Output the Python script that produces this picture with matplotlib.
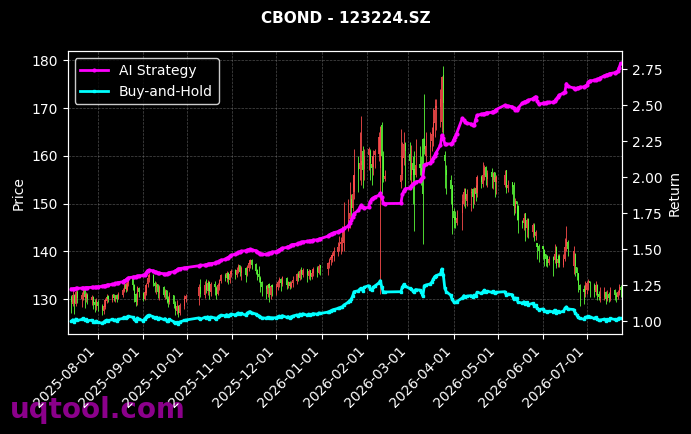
import numpy as np
import pandas as pd
import matplotlib
matplotlib.use("Agg")
import matplotlib.pyplot as plt
import matplotlib.dates as mdates

# trading days: weekdays minus exchange holidays
holidays = pd.to_datetime([
    "2025-10-01", "2025-10-02", "2025-10-03", "2025-10-06", "2025-10-07", "2025-10-08",
    "2026-01-01", "2026-01-02",
    "2026-02-16", "2026-02-17", "2026-02-18", "2026-02-19", "2026-02-20", "2026-02-23",
    "2026-04-06", "2026-05-01", "2026-05-04", "2026-05-05", "2026-06-19",
])
dates = pd.bdate_range("2025-07-14", "2026-07-24")
dates = dates[~dates.isin(holidays)]

# price candles, one row per month
open_ = [
    130.5, 129.0, 130.9, 129.0, 131.6, 130.0, 131.2, 132.0, 130.3, 131.0, 129.8, 130.5, 129.4, 128.6,  # jul
    129.5, 128.6, 127.6, 128.4, 129.6, 130.6, 129.8, 131.1, 130.0, 130.9, 130.1, 131.0, 131.8, 133.1, 132.0, 133.5, 134.2, 133.0, 131.2, 129.4, 132.4,  # aug
    131.4, 130.1, 131.4, 133.2, 134.6, 135.0, 133.4, 132.6, 133.1, 131.3, 132.6, 131.0, 131.9, 130.1, 129.4, 130.9, 129.0, 127.6, 128.6, 127.1, 128.6, 130.0,  # sep
    130.6, 132.6, 131.0, 133.1, 131.8, 133.6, 131.6, 133.3, 132.4, 131.1, 132.8, 133.9, 135.1, 134.4, 135.6, 134.0, 135.3,  # oct
    136.1, 135.0, 136.0, 137.1, 135.6, 136.6, 135.1, 136.6, 137.4, 138.3, 137.3, 136.1, 135.2, 134.5, 133.6, 132.7, 131.2, 133.1, 131.0, 132.9,  # nov
    132.4, 132.6, 133.5, 134.3, 133.2, 134.4, 132.8, 133.7, 132.6, 133.4, 133.8, 135.3, 134.4, 136.1, 135.0, 136.3, 134.8, 136.1, 134.6, 135.5, 136.5, 135.6, 137.1,  # dec
    136.4, 137.4, 138.3, 138.6, 139.1, 139.8, 141.2, 141.6, 142.2, 141.8, 144.6, 146.8, 151.0, 149.2, 152.5, 158.5, 157.2, 158.0, 161.0, 157.2,  # jan
    160.2, 161.0, 158.2, 157.6, 160.2, 160.5, 157.5, 166.5, 160.0, 155.2, 154.5, 156.2, 159.5, 162.6,  # feb
    160.5, 156.0, 158.6, 157.2, 156.0, 158.2, 157.4, 163.6, 163.6, 160.0, 161.8, 163.2, 164.2, 166.8, 170.0, 170.2, 167.0, 177.0, 160.1, 157.0, 155.0, 153.9,  # mar
    148.5, 147.2, 146.0, 148.0, 150.0, 153.0, 150.5, 152.2, 153.0, 151.2, 153.2, 152.2, 155.6, 154.2, 156.0, 157.6, 155.2, 156.6, 155.0, 156.6, 154.5,  # apr
    154.0, 157.0, 153.2, 154.6, 154.0, 149.0, 150.5, 149.5, 146.3, 146.0, 148.0, 145.0, 146.8, 144.0, 145.6, 143.2, 141.8, 141.2,  # may
    141.1, 140.4, 139.4, 139.0, 137.6, 138.8, 138.2, 141.0, 137.5, 139.0, 137.2, 138.5, 141.2, 142.0, 137.0, 139.5, 136.7, 135.5, 133.0, 132.2, 131.2,  # jun
    132.0, 133.6, 133.9, 133.0, 131.5, 133.0, 131.2, 130.2, 130.4, 131.6, 130.1, 131.2, 130.0, 132.0, 131.0, 130.4, 131.3, 132.6,  # jul
]
high = [
    131.0, 132.0, 131.2, 132.6, 131.9, 131.6, 132.3, 132.2, 131.5, 131.4, 130.9, 130.6, 130.0, 130.2,
    129.8, 129.0, 129.0, 130.3, 131.2, 131.0, 131.2, 131.2, 131.0, 131.1, 131.6, 132.4, 133.6, 133.3, 134.0, 134.6, 134.5, 133.2, 131.4, 132.8, 132.6,
    131.6, 132.0, 133.4, 134.9, 135.4, 135.2, 133.9, 133.6, 133.2, 132.9, 132.8, 132.2, 132.0, 130.6, 131.5, 131.0, 129.6, 129.8, 128.8, 129.2, 130.8, 131.2,
    133.2, 134.3, 133.8, 134.2, 134.0, 133.8, 133.6, 133.9, 132.8, 133.4, 134.2, 135.3, 135.6, 136.0, 135.8, 135.8, 136.4,
    136.4, 136.7, 137.3, 137.2, 136.9, 136.8, 137.2, 138.0, 138.5, 138.4, 137.6, 136.4, 137.0, 134.8, 133.8, 133.0, 133.2, 133.4, 133.0, 133.2,
    133.4, 134.0, 134.6, 134.5, 134.8, 134.6, 133.9, 133.9, 133.8, 134.8, 135.6, 136.0, 136.4, 136.7, 136.5, 136.4, 136.3, 136.2, 136.0, 136.8, 137.0, 137.3, 137.2,
    137.8, 138.6, 139.2, 139.8, 141.0, 142.0, 143.2, 143.0, 145.3, 150.4, 151.0, 154.6, 152.0, 156.0, 161.5, 160.0, 165.0, 168.4, 162.0, 161.5,
    161.8, 161.5, 160.0, 161.2, 161.5, 165.0, 166.3, 167.0, 161.0, 157.0, 165.6, 163.0, 165.0, 162.9,
    162.9, 162.2, 160.0, 161.0, 163.6, 162.0, 160.0, 163.8, 172.9, 165.0, 165.0, 166.0, 170.0, 171.9, 172.0, 174.0, 176.7, 178.8, 161.0, 158.0, 156.0, 154.0,
    149.0, 148.5, 148.6, 152.0, 153.2, 153.2, 153.0, 153.2, 153.2, 153.5, 154.0, 156.0, 156.0, 158.7, 158.0, 157.8, 157.0, 157.4, 156.7, 156.7, 156.0,
    157.0, 157.0, 155.0, 154.6, 154.6, 151.2, 150.5, 149.8, 146.5, 148.0, 148.0, 147.0, 147.0, 146.0, 146.0, 144.5, 141.8, 141.5,
    141.1, 140.6, 139.4, 139.2, 139.0, 139.0, 141.5, 141.2, 139.4, 139.4, 139.5, 142.9, 145.3, 142.5, 141.1, 139.6, 136.7, 135.6, 133.2, 133.0, 133.9,
    133.9, 134.2, 133.9, 133.4, 133.9, 133.2, 131.8, 132.5, 132.5, 131.8, 132.0, 131.5, 132.5, 132.2, 131.6, 132.0, 133.2, 133.0,
]
low = [
    127.2, 128.5, 127.0, 128.7, 129.3, 128.4, 129.8, 128.2, 129.5, 129.0, 128.8, 128.0, 127.4, 127.8,
    127.5, 126.7, 127.0, 128.0, 129.2, 129.4, 129.5, 129.6, 129.4, 129.5, 130.0, 130.5, 131.5, 131.6, 131.8, 132.8, 132.0, 129.5, 128.7, 128.9, 130.4,
    129.6, 129.9, 130.8, 132.5, 133.6, 132.8, 131.6, 131.2, 130.2, 129.8, 130.4, 130.1, 129.2, 128.4, 129.0, 128.2, 126.8, 127.0, 126.3, 126.8, 128.0, 129.4,
    128.8, 130.5, 130.2, 131.4, 130.8, 130.1, 130.6, 131.0, 130.0, 130.8, 132.0, 133.4, 133.8, 133.6, 133.2, 133.5, 134.6,
    134.2, 134.6, 135.4, 134.8, 134.0, 133.6, 134.8, 136.0, 136.6, 136.4, 135.3, 134.0, 133.6, 131.5, 130.6, 130.1, 130.4, 129.4, 130.0, 130.6,
    130.8, 132.0, 132.6, 131.8, 132.8, 132.2, 132.4, 132.2, 132.3, 132.5, 133.2, 133.8, 134.0, 134.2, 134.6, 133.6, 134.2, 134.0, 134.2, 134.8, 134.6, 135.2, 135.0,
    135.0, 136.6, 137.2, 137.8, 138.0, 139.0, 140.0, 139.4, 140.2, 140.0, 144.2, 145.0, 146.5, 148.4, 151.0, 152.5, 155.0, 154.0, 153.2, 155.0,
    157.0, 155.0, 153.9, 156.0, 157.5, 159.0, 131.1, 152.0, 154.6, 154.8, 153.2, 155.0, 158.0, 153.2,
    155.0, 153.2, 150.0, 144.3, 155.5, 156.0, 154.0, 141.5, 160.5, 158.0, 159.0, 161.0, 162.0, 164.0, 165.5, 166.0, 165.0, 163.6, 153.2, 152.0, 150.0, 143.6,
    145.0, 145.0, 145.5, 144.6, 149.5, 149.0, 149.5, 148.4, 149.0, 150.0, 150.5, 151.5, 153.2, 153.5, 155.0, 154.0, 153.5, 153.2, 153.0, 151.5, 152.0,
    153.5, 152.2, 152.5, 152.0, 147.7, 148.0, 146.5, 143.9, 145.0, 144.5, 142.2, 143.0, 142.9, 143.0, 142.2, 142.5, 138.5, 137.7,
    138.5, 137.0, 137.0, 136.7, 137.2, 134.9, 137.5, 136.5, 136.7, 136.7, 136.7, 138.0, 140.0, 139.0, 135.3, 134.9, 134.0, 131.5, 128.7, 129.1, 130.5,
    131.2, 132.0, 130.4, 130.5, 131.0, 129.8, 129.8, 129.5, 129.8, 129.1, 129.6, 129.4, 129.6, 129.8, 129.4, 130.0, 130.8, 130.4,
]
close = [
    129.5, 130.8, 129.2, 131.5, 130.2, 131.0, 132.0, 130.5, 131.2, 130.0, 130.4, 129.3, 128.8, 129.6,
    128.5, 127.8, 128.6, 129.8, 130.5, 130.0, 131.0, 130.2, 130.8, 130.0, 131.2, 132.0, 133.0, 132.2, 133.4, 134.0, 133.0, 131.0, 129.5, 132.5, 131.5,
    130.0, 131.5, 133.0, 134.5, 135.0, 133.5, 132.8, 133.0, 131.5, 132.5, 131.0, 131.8, 130.0, 129.5, 131.0, 129.0, 127.8, 128.5, 127.2, 128.8, 130.2, 130.6,
    132.5, 131.2, 133.0, 132.0, 133.5, 131.8, 133.2, 132.5, 131.0, 133.0, 134.0, 135.0, 134.5, 135.5, 134.2, 135.2, 136.0,
    135.2, 136.2, 137.0, 135.8, 136.5, 135.0, 136.8, 137.6, 138.2, 137.2, 136.0, 135.0, 134.6, 133.5, 132.6, 132.2, 133.0, 132.3, 132.8, 132.5,
    132.8, 133.6, 134.2, 133.4, 134.6, 133.0, 133.6, 132.8, 133.5, 134.0, 135.2, 134.6, 136.0, 135.2, 136.2, 135.0, 136.0, 134.8, 135.6, 136.4, 135.8, 137.0, 136.5,
    137.6, 138.2, 138.8, 139.3, 140.0, 141.0, 141.5, 142.0, 142.5, 144.0, 146.5, 148.0, 149.0, 152.0, 156.0, 157.0, 158.5, 159.0, 157.0, 160.0,
    161.5, 158.5, 157.5, 160.0, 161.0, 164.0, 166.0, 160.0, 155.5, 155.8, 156.0, 160.0, 162.5, 161.0,
    159.0, 158.5, 157.0, 156.0, 158.0, 157.5, 155.8, 152.0, 161.5, 162.0, 163.0, 164.5, 167.0, 169.5, 170.5, 172.0, 176.5, 171.0, 159.0, 156.0, 153.0, 149.0,
    147.0, 146.5, 147.0, 150.5, 152.5, 151.0, 152.0, 152.5, 151.5, 153.0, 152.0, 155.5, 154.5, 156.0, 157.5, 155.5, 156.5, 155.5, 156.5, 154.5, 155.5,
    156.0, 153.0, 154.0, 153.5, 149.5, 150.5, 150.0, 146.5, 146.0, 147.0, 145.0, 146.5, 144.5, 145.5, 143.5, 144.0, 141.0, 140.0,
    140.5, 139.0, 138.5, 137.5, 138.5, 138.0, 139.5, 137.0, 138.5, 137.5, 138.5, 141.0, 142.5, 140.5, 140.0, 137.0, 135.5, 133.0, 132.0, 131.5, 133.0,
    133.5, 133.8, 133.5, 132.0, 133.0, 131.0, 130.5, 130.5, 131.5, 130.0, 131.0, 130.2, 132.0, 131.0, 130.5, 131.5, 132.5, 132.0,
]

# return curves (right axis)
ai_strategy = [
    1.225, 1.226, 1.227, 1.228, 1.228, 1.230, 1.232, 1.231, 1.233, 1.234, 1.235, 1.236, 1.236, 1.238,
    1.240, 1.242, 1.245, 1.248, 1.250, 1.252, 1.256, 1.258, 1.262, 1.264, 1.268, 1.274, 1.282, 1.286, 1.294, 1.302, 1.306, 1.308, 1.310, 1.314, 1.316,
    1.318, 1.320, 1.336, 1.352, 1.355, 1.350, 1.345, 1.340, 1.336, 1.334, 1.330, 1.326, 1.328, 1.332, 1.338, 1.344, 1.350, 1.356, 1.364, 1.366, 1.370, 1.372,
    1.385, 1.388, 1.390, 1.392, 1.396, 1.398, 1.400, 1.404, 1.408, 1.412, 1.418, 1.424, 1.430, 1.436, 1.442, 1.450, 1.458,
    1.466, 1.472, 1.478, 1.482, 1.486, 1.490, 1.494, 1.498, 1.500, 1.496, 1.490, 1.482, 1.476, 1.470, 1.466, 1.464, 1.468, 1.472, 1.476, 1.480,
    1.484, 1.490, 1.496, 1.502, 1.508, 1.512, 1.516, 1.520, 1.526, 1.532, 1.536, 1.540, 1.544, 1.548, 1.552, 1.554, 1.556, 1.558, 1.560, 1.563, 1.566, 1.570, 1.573,
    1.590, 1.598, 1.604, 1.609, 1.615, 1.622, 1.627, 1.632, 1.636, 1.644, 1.660, 1.680, 1.700, 1.725, 1.748, 1.770, 1.790, 1.806, 1.790, 1.785,
    1.792, 1.830, 1.848, 1.855, 1.862, 1.875, 1.890, 1.860, 1.820, 1.817, 1.818, 1.880, 1.905, 1.920,
    1.925, 1.940, 1.950, 1.960, 1.967, 1.975, 1.990, 2.000, 2.083, 2.090, 2.100, 2.115, 2.130, 2.150, 2.170, 2.222, 2.292, 2.270, 2.234, 2.230, 2.232, 2.236,
    2.260, 2.280, 2.303, 2.410, 2.395, 2.385, 2.375, 2.370, 2.362, 2.360, 2.400, 2.430, 2.438, 2.440, 2.442, 2.445, 2.448, 2.450, 2.455, 2.460, 2.470,
    2.500, 2.498, 2.495, 2.490, 2.480, 2.470, 2.465, 2.480, 2.515, 2.520, 2.525, 2.530, 2.535, 2.545, 2.552, 2.560, 2.530, 2.510,
    2.512, 2.515, 2.518, 2.520, 2.520, 2.522, 2.530, 2.540, 2.555, 2.570, 2.585, 2.595, 2.650, 2.630, 2.620, 2.615, 2.618, 2.620, 2.625, 2.628, 2.632,
    2.640, 2.660, 2.670, 2.672, 2.676, 2.680, 2.684, 2.690, 2.705, 2.708, 2.712, 2.716, 2.720, 2.726, 2.730, 2.735, 2.760, 2.790,
]
buy_hold = [
    1.000, 1.010, 0.998, 1.015, 1.005, 1.012, 1.019, 1.008, 1.013, 1.004, 1.007, 0.998, 0.995, 1.001,
    0.992, 0.987, 0.993, 1.002, 1.008, 1.004, 1.012, 1.005, 1.010, 1.004, 1.013, 1.019, 1.027, 1.021, 1.030, 1.035, 1.027, 1.012, 1.000, 1.023, 1.015,
    1.004, 1.015, 1.027, 1.039, 1.042, 1.031, 1.025, 1.027, 1.015, 1.023, 1.012, 1.018, 1.004, 1.000, 1.012, 0.996, 0.987, 0.992, 0.982, 0.995, 1.005, 1.008,
    1.023, 1.013, 1.027, 1.019, 1.031, 1.018, 1.029, 1.023, 1.012, 1.027, 1.035, 1.042, 1.039, 1.046, 1.036, 1.044, 1.050,
    1.044, 1.052, 1.058, 1.049, 1.054, 1.042, 1.056, 1.063, 1.067, 1.059, 1.050, 1.042, 1.039, 1.031, 1.024, 1.021, 1.027, 1.022, 1.025, 1.023,
    1.025, 1.032, 1.036, 1.030, 1.039, 1.027, 1.032, 1.025, 1.031, 1.035, 1.044, 1.039, 1.050, 1.044, 1.052, 1.042, 1.050, 1.041, 1.047, 1.053, 1.049, 1.058, 1.054,
    1.063, 1.067, 1.072, 1.076, 1.081, 1.089, 1.093, 1.097, 1.100, 1.112, 1.131, 1.143, 1.151, 1.174, 1.205, 1.212, 1.224, 1.228, 1.212, 1.236,
    1.247, 1.224, 1.216, 1.236, 1.243, 1.266, 1.282, 1.236, 1.201, 1.203, 1.205, 1.236, 1.255, 1.243,
    1.228, 1.224, 1.212, 1.205, 1.220, 1.216, 1.203, 1.174, 1.247, 1.251, 1.259, 1.270, 1.290, 1.309, 1.317, 1.328, 1.363, 1.320, 1.228, 1.205, 1.181, 1.151,
    1.135, 1.131, 1.135, 1.162, 1.178, 1.166, 1.174, 1.178, 1.170, 1.181, 1.174, 1.201, 1.193, 1.205, 1.216, 1.201, 1.208, 1.201, 1.208, 1.193, 1.201,
    1.205, 1.181, 1.189, 1.185, 1.154, 1.162, 1.158, 1.131, 1.127, 1.135, 1.120, 1.131, 1.116, 1.124, 1.108, 1.112, 1.089, 1.081,
    1.085, 1.073, 1.069, 1.062, 1.069, 1.066, 1.077, 1.058, 1.069, 1.062, 1.069, 1.089, 1.100, 1.085, 1.081, 1.058, 1.046, 1.027, 1.019, 1.015, 1.027,
    1.031, 1.033, 1.031, 1.019, 1.027, 1.012, 1.008, 1.008, 1.015, 1.004, 1.012, 1.005, 1.019, 1.012, 1.008, 1.015, 1.023, 1.019,
]

print(len(dates), len(open_), len(high), len(low), len(close), len(ai_strategy), len(buy_hold))

o = np.array(open_)
c = np.array(close)
up = c >= o
colors = np.where(up, "#ff4d4d", "#5cff3a")

fig = plt.figure(figsize=(6.91, 4.34), dpi=100, facecolor="black")
ax = fig.add_axes([0.098, 0.230, 0.802, 0.652])
ax.set_facecolor("black")

# candles: wick + body
ax.vlines(dates, low, high, colors=colors, linewidth=0.7, alpha=0.85, zorder=2)
ax.bar(dates, np.maximum(np.abs(c - o), 0.15), bottom=np.minimum(o, c), width=0.8,
       color=colors, alpha=0.85, zorder=2)
ax.grid(color="gray", linestyle="--", linewidth=0.5, alpha=0.6, zorder=0)
ax.set_ylim(122.7, 181.9)
ax.set_xlim(pd.Timestamp("2025-07-11 12:00"), pd.Timestamp("2026-07-24 22:00"))
ax.set_ylabel("Price", color="white")

ax2 = ax.twinx()
ax2.plot(dates, ai_strategy, color="magenta", linewidth=2, marker="o", markersize=2, label="AI Strategy")
ax2.plot(dates, buy_hold, color="cyan", linewidth=2, marker="s", markersize=2, label="Buy-and-Hold")
ax2.set_ylim(0.91, 2.875)
ax2.set_ylabel("Return", color="white")

ax.xaxis.set_major_locator(mdates.MonthLocator())
ax.xaxis.set_major_formatter(mdates.DateFormatter("%Y-%m-%d"))
plt.setp(ax.get_xticklabels(), rotation=45, ha="right")

for a in (ax, ax2):
    a.tick_params(colors="white")
    for s in a.spines.values():
        s.set_color("white")

leg = ax2.legend(loc="upper left", facecolor="black", edgecolor="white", labelcolor="white")

fig.suptitle("CBOND - 123224.SZ", color="white", fontweight="bold", fontsize=11, y=0.975)
fig.text(0.014, 0.037, "uqtool.com", fontsize=20, fontweight="bold", color="#8b008b", zorder=-1)

fig.savefig("out.png", dpi=100, facecolor="black")
